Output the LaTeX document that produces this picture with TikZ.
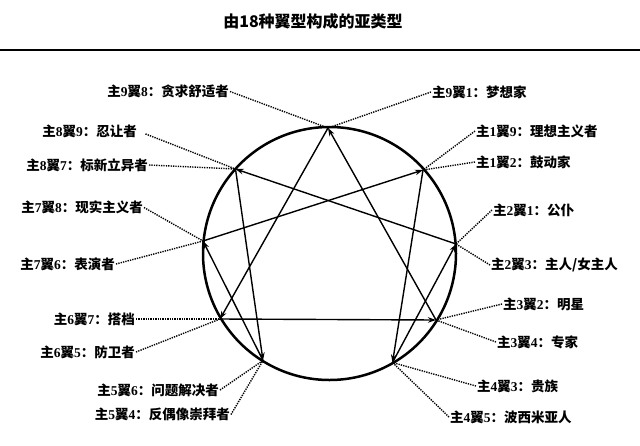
\documentclass[tikz,border=0pt]{standalone}
\usepackage{fontspec}
\setmainfont{Liberation Serif}
\newfontfamily\cjk{Noto Sans CJK SC}
\usetikzlibrary{arrows.meta}
\newcommand\zh[1]{{\cjk #1}}
\newcommand\wl[3]{\zh{主}#1\zh{翼}#2\zh{：#3}}
\begin{document}
\begin{tikzpicture}[x=1pt,y=-1pt,
  lbl/.style={font=\fontsize{13.5}{15}\selectfont\bfseries, inner sep=1pt},
  leader/.style={line width=1.4pt, dash pattern=on 1.3pt off 1.1pt},
  edgearrow/.style={line width=1.4pt, -{Stealth[length=8pt,width=5.5pt]}},
  ring/.style={line width=2.5pt}]
\useasboundingbox (0,0) rectangle (640,445);
% title and rule
\node[font=\fontsize{16}{18}\selectfont\bfseries\cjk] (title) at (313,21) {由18种翼型构成的亚类型};
\coordinate (rl) at (0,49.5);
\coordinate (rr) at (640,49.5);
\draw[line width=2pt] (rl) -- (rr);
% circle and points
\coordinate (c) at (329.5,253.5);
\draw[ring] (c) circle (126.5pt);
\coordinate (p9) at (328,128);
\coordinate (p1) at (423,170);
\coordinate (p2) at (456,244);
\coordinate (p3) at (436,320);
\coordinate (p4) at (392.5,362.5);
\coordinate (p5) at (263,360.5);
\coordinate (p6) at (220,319);
\coordinate (p7) at (203,241);
\coordinate (p8) at (235.5,169);
% inner lines
\draw[edgearrow] (p1) -- (p4);
\draw[edgearrow] (p4) -- (p2);
\draw[edgearrow] (p2) -- (p8);
\draw[edgearrow] (p8) -- (p5);
\draw[edgearrow] (p5) -- (p7);
\draw[edgearrow] (p7) -- (p1);
\draw[edgearrow] (p9) -- (p6);
\draw[edgearrow] (p6) -- (p3);
\draw[edgearrow] (p3) -- (p9);
% left labels
\node[lbl, anchor=east] (l98) at (230,91.5) {\wl{9}{8}{贪求舒适者}};
\node[lbl, anchor=east] (l89) at (138,131) {\wl{8}{9}{忍让者}};
\node[lbl, anchor=east] (l87) at (149,165) {\wl{8}{7}{标新立异者}};
\node[lbl, anchor=east] (l78) at (144,207.5) {\wl{7}{8}{现实主义者}};
\node[lbl, anchor=east] (l76) at (116,264) {\wl{7}{6}{表演者}};
\node[lbl, anchor=east] (l67) at (136,319) {\wl{6}{7}{搭档}};
\node[lbl, anchor=east] (l65) at (136,352) {\wl{6}{5}{防卫者}};
\node[lbl, anchor=east] (l56) at (220,390) {\wl{5}{6}{问题解决者}};
\node[lbl, anchor=east] (l54) at (231,414.5) {\wl{5}{4}{反偶像崇拜者}};
% right labels
\node[lbl, anchor=west] (r91) at (431,92) {\wl{9}{1}{梦想家}};
\node[lbl, anchor=west] (r19) at (475,131) {\wl{1}{9}{理想主义者}};
\node[lbl, anchor=west] (r12) at (475,162) {\wl{1}{2}{鼓动家}};
\node[lbl, anchor=west] (r21) at (492,210) {\wl{2}{1}{公仆}};
\node[lbl, anchor=west] (r23) at (490,265) {\wl{2}{3}{主人/女主人}};
\node[lbl, anchor=west] (r32) at (502,304) {\wl{3}{2}{明星}};
\node[lbl, anchor=west] (r34) at (496,342) {\wl{3}{4}{专家}};
\node[lbl, anchor=west] (r43) at (476,386) {\wl{4}{3}{贵族}};
\node[lbl, anchor=west] (r45) at (449,417) {\wl{4}{5}{波西米亚人}};
% leaders
\draw[leader] (l98.east) -- (p9);
\draw[leader, shorten <=8pt] (l89.east) -- (p8);
\draw[leader] (l87.east) -- (p8);
\draw[leader] (l78.east) -- (p7);
\draw[leader] (l76.east) -- (p7);
\draw[leader] (l67.east) -- (p6);
\draw[leader] (l65.east) -- (p6);
\draw[leader] (l56.east) -- (p5);
\draw[leader] (l54.east) -- (p5);
\draw[leader] (r91.west) -- (p9);
\draw[leader] (r19.west) -- (p1);
\draw[leader] (r12.west) -- (p1);
\draw[leader] (r21.west) -- (p2);
\draw[leader] (r23.west) -- (p2);
\draw[leader] (r32.west) -- (p3);
\draw[leader] (r34.west) -- (p3);
\draw[leader] (r43.west) -- (p4);
\draw[leader] (r45.west) -- (p4);
\end{tikzpicture}
\end{document}
